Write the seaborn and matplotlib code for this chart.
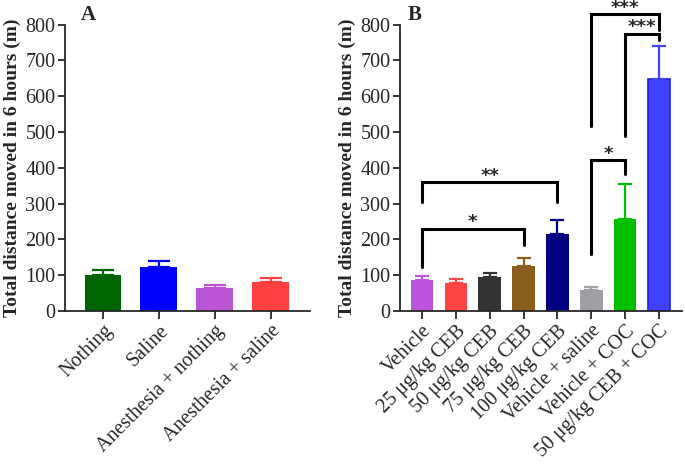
import matplotlib
matplotlib.use("Agg")
import matplotlib.pyplot as plt
import pandas as pd
import seaborn as sns

# ---------------------------------------------------------------------------
# Data
# ---------------------------------------------------------------------------
groups_a = ["Nothing", "Saline", "Anesthesia + nothing", "Anesthesia + saline"]
mean_a = [100, 123, 65, 81]
upper_a = [115, 139, 73, 92]          # mean + SEM
colors_a = ["#006400", "#0000FF", "#BA55D8", "#FF4040"]

groups_b = ["Vehicle", "25 μg/kg CEB", "50 μg/kg CEB", "75 μg/kg CEB",
            "100 μg/kg CEB", "Vehicle + saline", "Vehicle + COC",
            "50 μg/kg CEB + COC"]
mean_b = [86, 79, 94, 127, 216, 58, 258, 647]
upper_b = [97, 88, 107, 148, 254, 67, 356, 740]
colors_b = ["#BB55DD", "#FF4444", "#333333", "#8B5E1E", "#000080",
            "#A0A0A4", "#00C000", "#4040FF"]

# significance brackets: (left bar, right bar, top, left leg end, right leg end, label)
brackets_b = [
    (0, 3, 230, 123, 183, "*"),
    (0, 4, 360, 304, 304, "**"),
    (5, 6, 421, 160, 384, "*"),
    (6, 7, 775, 488, 758, "***"),
    (5, 7, 829, 516, 786, "***"),
]

ylabel = "Total distance moved in 6 hours (m)"

sns.set_style("ticks")
plt.rcParams["font.family"] = ["Liberation Serif", "DejaVu Serif"]
plt.rcParams["axes.linewidth"] = 1.3

fig = plt.figure(figsize=(6.85, 4.68), dpi=100)
ax_a = fig.add_axes([0.095, 0.3355, 0.358, 0.612])
ax_b = fig.add_axes([0.584, 0.3355, 0.4116, 0.612])


def draw_panel(ax, groups, means, uppers, colors, width, capsize, xlim, letter, lx):
    df = pd.DataFrame({"group": groups, "value": means})
    sns.barplot(data=df, x="group", y="value", hue="group", palette=colors,
                width=width, errorbar=None, legend=False, saturation=1,
                edgecolor=None, linewidth=0, ax=ax)
    for i, (m, u, c) in enumerate(zip(means, uppers, colors)):
        ax.errorbar(i, m, yerr=[[0], [u - m]], color=c, lw=1.6,
                    capsize=capsize, capthick=1.6, zorder=3)
    ax.set_ylim(0, 800)
    ax.set_yticks(range(0, 801, 100))
    ax.set_xlim(*xlim)
    ax.set_xlabel("")
    ax.set_ylabel(ylabel, fontsize=14, fontweight="bold", labelpad=3)
    ax.tick_params(axis="y", labelsize=14.5, width=1.3, length=5, pad=2)
    ax.tick_params(axis="x", width=1.3, length=5.5, pad=2)
    ax.set_xticks(range(len(groups)))
    ax.set_xticklabels(groups, rotation=45, ha="right", rotation_mode="anchor",
                       fontsize=14.5)
    sns.despine(ax=ax)
    ax.text(lx, 1.035, letter, transform=ax.transAxes, fontsize=15,
            fontweight="bold", ha="center", va="center")


draw_panel(ax_a, groups_a, mean_a, upper_a, colors_a, 0.66, 8,
           (-0.68, 3.71), "A", 0.094)
draw_panel(ax_b, groups_b, mean_b, upper_b, colors_b, 0.67, 5,
           (-0.65, 7.68), "B", 0.053)
ax_b.patches[-1].set_edgecolor("#2020E0")
ax_b.patches[-1].set_linewidth(1.2)

for i, j, top, yl, yr, lab in brackets_b:
    ax_b.plot([i, i, j, j], [yl, top, top, yr], color="black", lw=2.2,
              solid_joinstyle="miter", zorder=4, clip_on=False)
    ax_b.text((i + j) / 2, top + 18, lab, ha="center", va="center",
              fontsize=13, fontweight="bold", family="DejaVu Sans",
              clip_on=False)

fig.savefig("out.png", dpi=100)
